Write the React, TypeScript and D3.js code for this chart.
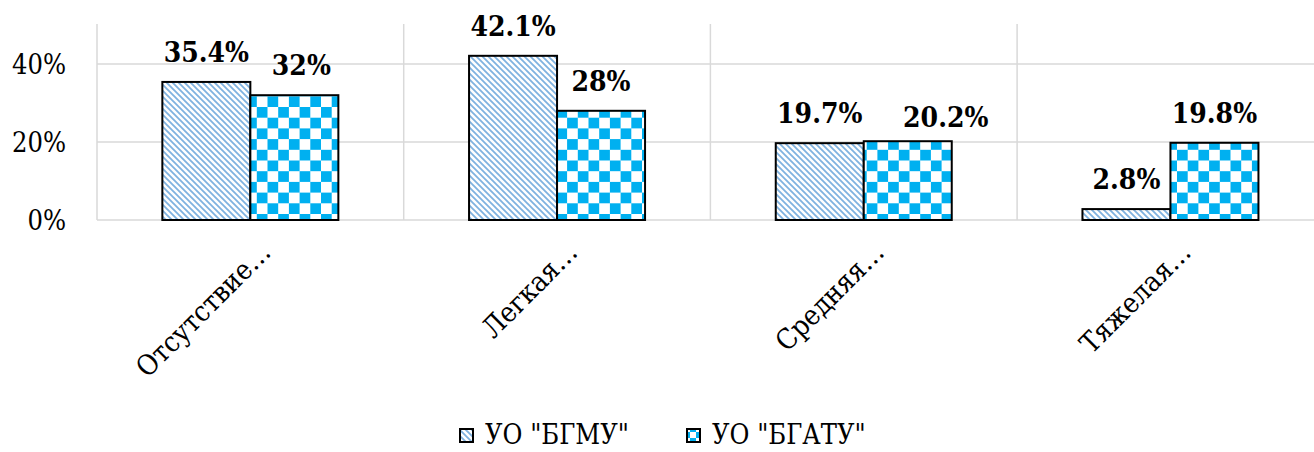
import React, {useEffect, useRef} from 'react';
import * as d3 from 'd3';

const categories = ['Отсутствие…', 'Легкая…', 'Средняя…', 'Тяжелая…'];
const seriesNames = ['УО "БГМУ"', 'УО "БГАТУ"'];
const bgmu = [35.4, 42.1, 19.7, 2.8];
const bgatu = [32, 28, 20.2, 19.8];
const labelsBgmu = ['35.4%', '42.1%', '19.7%', '2.8%'];
const labelsBgatu = ['32%', '28%', '20.2%', '19.8%'];
const yTicks = [0, 20, 40];

const W = 1314;
const H = 452;
const FONT = 'DejaVu Serif Condensed';

const App: React.FC = () => {
    const svgRef = useRef<SVGSVGElement | null>(null);

    useEffect(() => {
        document.body.style.margin = '0';
        const svg = d3.select(svgRef.current);
        svg.selectAll('*').remove();

        const plot = {left: 97, top: 25, bottom: 220, step: 306.7};
        const groupW = 176;

        const x0 = d3.scaleBand<string>()
            .domain(categories)
            .range([plot.left, plot.left + plot.step * categories.length]);
        const x1 = d3.scaleBand<string>()
            .domain(seriesNames)
            .range([0, groupW]);
        const y = d3.scaleLinear()
            .domain([0, 50])
            .range([plot.bottom, plot.top]);

        // patterns
        const defs = svg.append('defs');
        const stripe = defs.append('pattern')
            .attr('id', 'stripes')
            .attr('patternUnits', 'userSpaceOnUse')
            .attr('width', 6)
            .attr('height', 6);
        stripe.append('rect').attr('width', 6).attr('height', 6).attr('fill', '#fff');
        stripe.append('path')
            .attr('d', 'M-2,-2 L8,8 M-2,4 L2,8 M4,-2 L8,2')
            .attr('stroke', '#7fb2e0')
            .attr('stroke-width', 1.8);

        const makeChecker = (id: string, c: number) => {
            const p = defs.append('pattern')
                .attr('id', id)
                .attr('patternUnits', 'userSpaceOnUse')
                .attr('width', c * 2)
                .attr('height', c * 2);
            p.append('rect').attr('width', c * 2).attr('height', c * 2).attr('fill', '#fff');
            p.append('rect').attr('width', c).attr('height', c).attr('fill', '#00b0f0');
            p.append('rect').attr('x', c).attr('y', c).attr('width', c).attr('height', c).attr('fill', '#00b0f0');
        };
        makeChecker('checker', 10.7);
        makeChecker('checkerSmall', 6);

        const fills = ['url(#stripes)', 'url(#checker)'];

        // grid
        const xEnd = plot.left + plot.step * categories.length;
        svg.append('g')
            .selectAll('line')
            .data(yTicks)
            .enter().append('line')
            .attr('x1', plot.left)
            .attr('x2', xEnd)
            .attr('y1', d => y(d))
            .attr('y2', d => y(d))
            .attr('stroke', '#d9d9d9')
            .attr('stroke-width', 1.5);
        svg.append('g')
            .selectAll('line')
            .data(d3.range(categories.length + 1))
            .enter().append('line')
            .attr('x1', i => plot.left + plot.step * i)
            .attr('x2', i => plot.left + plot.step * i)
            .attr('y1', plot.top - 1)
            .attr('y2', plot.bottom)
            .attr('stroke', '#d9d9d9')
            .attr('stroke-width', 1.5);

        // y labels
        svg.append('g')
            .selectAll('text')
            .data(yTicks)
            .enter().append('text')
            .attr('x', 66)
            .attr('y', d => y(d))
            .attr('dy', '0.36em')
            .attr('text-anchor', 'end')
            .attr('font-family', FONT)
            .attr('font-size', 27)
            .text(d => d + '%');

        // bars
        const series = [bgmu, bgatu];
        const labels = [labelsBgmu, labelsBgatu];
        const nudge = [[[0, 0], [0, 0], [0, 0], [0, 0]], [[7, 0], [0, 0], [38, 6], [0, 0]]];
        series.forEach((vals, s) => {
            const g = svg.append('g');
            const bx = (i: number) => x0(categories[i])! + (x0.bandwidth() - groupW) / 2 + x1(seriesNames[s])!;
            g.selectAll('rect')
                .data(vals)
                .enter().append('rect')
                .attr('x', (d, i) => bx(i))
                .attr('y', d => y(d))
                .attr('width', x1.bandwidth())
                .attr('height', d => y(0) - y(d))
                .attr('fill', fills[s])
                .attr('stroke', '#000')
                .attr('stroke-width', 2);
            g.selectAll('text')
                .data(vals)
                .enter().append('text')
                .attr('x', (d, i) => bx(i) + x1.bandwidth() / 2 + nudge[s][i][0])
                .attr('y', (d, i) => y(d) - 20 + nudge[s][i][1])
                .attr('text-anchor', 'middle')
                .attr('font-family', FONT)
                .attr('font-weight', 'bold')
                .attr('font-size', 28)
                .text((d, i) => labels[s][i]);
        });

        // category labels
        svg.append('g')
            .selectAll('text')
            .data(categories)
            .enter().append('text')
            .attr('transform', d => `translate(${x0(d)! + x0.bandwidth() / 2 + 22},${plot.bottom + 34}) rotate(-45)`)
            .attr('text-anchor', 'end')
            .attr('font-family', FONT)
            .attr('font-size', 28)
            .text(d => d);

        // legend
        const legendX = [460, 687];
        const lg = svg.append('g');
        seriesNames.forEach((name, s) => {
            lg.append('rect')
                .attr('x', legendX[s])
                .attr('y', 429)
                .attr('width', 13)
                .attr('height', 13)
                .attr('fill', s === 0 ? 'url(#stripes)' : 'url(#checkerSmall)')
                .attr('stroke', '#000')
                .attr('stroke-width', 2);
            lg.append('text')
                .attr('x', legendX[s] + 25)
                .attr('y', 444)
                .attr('font-family', FONT)
                .attr('font-size', 27)
                .text(name);
        });
    }, []);

    return (
        <svg ref={svgRef} width={W} height={H} style={{display: 'block', background: '#fff'}}/>
    );
};

export default App;
